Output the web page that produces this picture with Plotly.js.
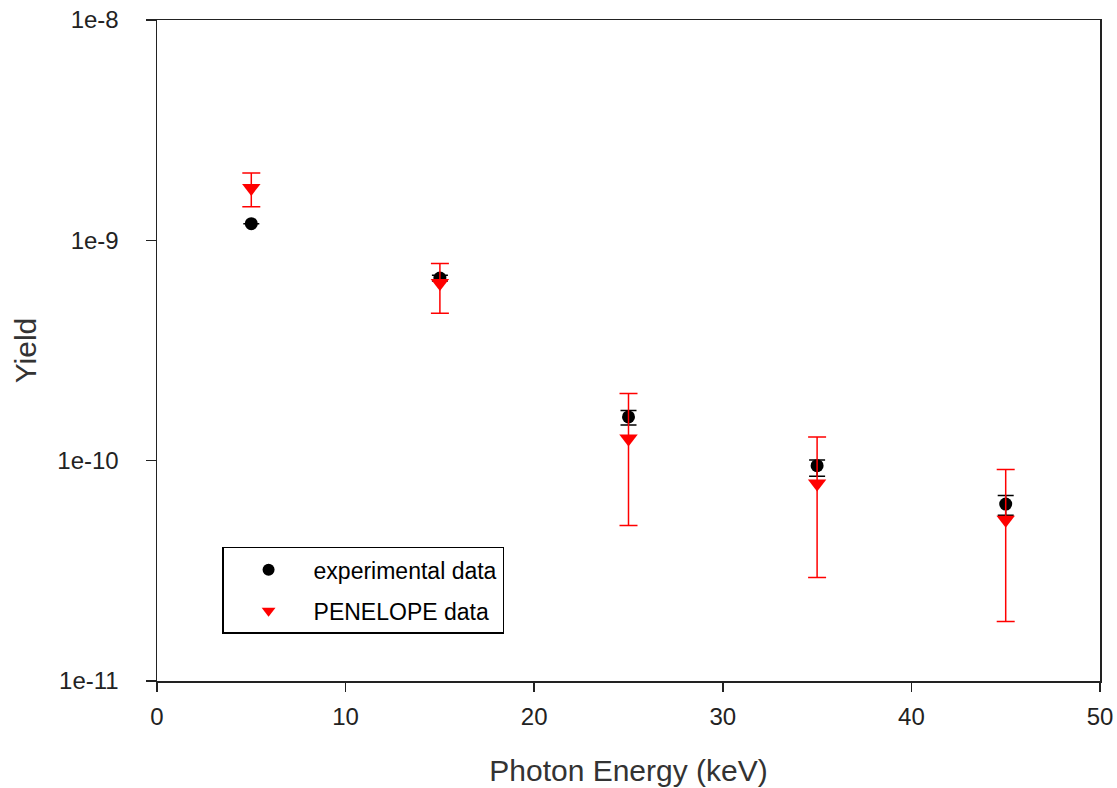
<!DOCTYPE html>
<html>
<head>
<meta charset="utf-8">
<script src="https://cdn.plot.ly/plotly-3.0.1.min.js"></script>
<style>html,body{margin:0;padding:0;background:#fff;}#chart{width:1117px;height:788px;}</style>
</head>
<body>
<div id="chart"></div>
<script>
const energy = [5, 15, 25, 35, 45];
const expYield = [1.19e-9, 6.74e-10, 1.58e-10, 9.49e-11, 6.35e-11];
const expErrPlus = [null, 0.2e-10, 0.11e-10, 0.58e-11, 0.60e-11];
const expErrMinus = [null, 0.2e-10, 0.13e-10, 0.99e-11, 0.70e-11];
const penYield = [1.73e-9, 6.4e-10, 1.26e-10, 7.88e-11, 5.4e-11];
const penErrTop = [2.02e-9, 7.85e-10, 2.02e-10, 1.28e-10, 9.12e-11];
const penErrBottom = [1.42e-9, 4.67e-10, 5.08e-11, 2.95e-11, 1.86e-11];
const xTicks = [0, 10, 20, 30, 40, 50];
const yTicks = [1e-11, 1e-10, 1e-9, 1e-8];
const yTickText = ['1e-11', '1e-10', '1e-9', '1e-8'];

const penPlus = penYield.map((v, i) => penErrTop[i] - v);
const penMinus = penYield.map((v, i) => v - penErrBottom[i]);

const font = "Arial, 'Liberation Sans', sans-serif";

const traces = [
  {
    x: energy, y: expYield, type: 'scatter', mode: 'markers',
    name: 'experimental data', legendgroup: 'a',
    marker: {symbol: 'circle', size: 13, color: '#000'},
    error_y: {type: 'data', symmetric: false, array: expErrPlus, arrayminus: expErrMinus,
              color: '#000', thickness: 1.5, width: 8}
  },
  {
    x: energy, y: penYield, type: 'scatter', mode: 'markers',
    name: 'PENELOPE data', legendgroup: 'b',
    marker: {symbol: 'triangle-down', size: 16, color: '#ff0000'},
    error_y: {type: 'data', symmetric: false, array: penPlus, arrayminus: penMinus,
              color: '#ff0000', thickness: 1.5, width: 9}
  }
];

const layout = {
  width: 1117, height: 788,
  margin: {l: 157, r: 17, t: 20, b: 107},
  paper_bgcolor: '#fff', plot_bgcolor: '#fff',
  font: {family: font, size: 22, color: '#222'},
  showlegend: true,
  legend: {
    x: 0.069, y: 0.203, xanchor: 'left', yanchor: 'top',
    bordercolor: '#000', borderwidth: 1.5, bgcolor: '#fff',
    font: {family: font, size: 23, color: '#000'},
    tracegroupgap: 8, itemwidth: 80, itemsizing: 'constant'
  },
  xaxis: {
    range: [0, 50], tickvals: xTicks,
    showgrid: false, zeroline: false,
    showline: true, linecolor: '#222', linewidth: 1.5, mirror: true,
    ticks: 'outside', ticklen: 9, tickwidth: 1.5, tickcolor: '#222',
    ticklabelstandoff: 5,
    tickfont: {family: font, size: 24, color: '#222'},
    title: {text: 'Photon Energy (keV)', font: {family: font, size: 30, color: '#333'}, standoff: 30}
  },
  yaxis: {
    type: 'log', range: [-11, -8],
    tickvals: yTicks, ticktext: yTickText,
    showgrid: false, zeroline: false,
    showline: true, linecolor: '#222', linewidth: 1.5, mirror: true,
    ticks: 'outside', ticklen: 10, tickwidth: 1.5, tickcolor: '#222',
    ticklabelstandoff: 22,
    tickfont: {family: font, size: 24, color: '#222'},
    title: {text: 'Yield', font: {family: font, size: 30, color: '#333'}, standoff: 12}
  }
};

Plotly.newPlot('chart', traces, layout, {displayModeBar: false, staticPlot: true});
</script>
</body>
</html>
